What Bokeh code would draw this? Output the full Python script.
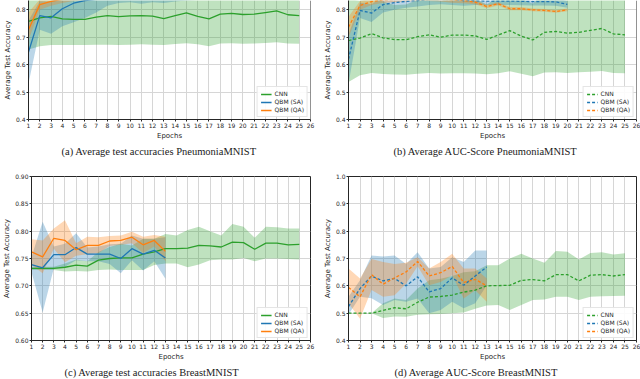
from bokeh.plotting import figure
from bokeh.layouts import column, row
from bokeh.models import Range1d, FixedTicker, Span, Title, NumeralTickFormatter
from bokeh.embed import file_html
from bokeh.resources import INLINE

# ---------------- data ----------------
ep25 = list(range(1, 26))
ep20 = list(range(1, 21))
ep13 = list(range(1, 14))
xticks = list(range(1, 27))

# (a) PneumoniaMNIST accuracy
cnn_a = [0.758, 0.771, 0.776, 0.767, 0.765, 0.765, 0.773, 0.779, 0.775, 0.778, 0.779, 0.777, 0.768,
         0.779, 0.789, 0.776, 0.767, 0.784, 0.787, 0.783, 0.784, 0.790, 0.796, 0.782, 0.779]
cnn_a_lo = [0.655, 0.667, 0.672, 0.672, 0.672, 0.672, 0.673, 0.673, 0.672, 0.673, 0.674, 0.673, 0.672,
            0.675, 0.678, 0.674, 0.667, 0.677, 0.678, 0.676, 0.677, 0.679, 0.682, 0.677, 0.676]
cnn_a_hi = [0.861, 0.875, 0.880, 0.862, 0.858, 0.858, 0.873, 0.885, 0.878, 0.883, 0.884, 0.881, 0.864,
            0.883, 0.900, 0.878, 0.867, 0.891, 0.896, 0.890, 0.891, 0.901, 0.910, 0.887, 0.882]
sa_a = [0.646, 0.779, 0.771, 0.804, 0.824, 0.834, 0.838, 0.846, 0.850, 0.852, 0.851, 0.854, 0.853,
        0.856, 0.857, 0.858, 0.858, 0.859, 0.860, 0.860]
sa_a_lo = [0.531, 0.727, 0.713, 0.740, 0.755, 0.770, 0.790, 0.815, 0.825, 0.828, 0.822, 0.828, 0.825,
           0.830, 0.834, 0.836, 0.836, 0.838, 0.838, 0.839]
sa_a_hi = [0.761, 0.831, 0.829, 0.868, 0.893, 0.898, 0.886, 0.877, 0.875, 0.876, 0.880, 0.880, 0.881,
           0.882, 0.880, 0.880, 0.880, 0.880, 0.882, 0.881]
qa_a = [0.727, 0.819, 0.831, 0.838, 0.842, 0.844, 0.846, 0.847, 0.848, 0.848, 0.849, 0.849, 0.850,
        0.850, 0.850, 0.851, 0.851, 0.851, 0.852, 0.852]
qa_a_lo = [0.690, 0.800, 0.815, 0.825, 0.832, 0.835, 0.837, 0.838, 0.839, 0.839, 0.840, 0.840, 0.841,
           0.841, 0.841, 0.842, 0.842, 0.842, 0.843, 0.843]
qa_a_hi = [0.790, 0.838, 0.847, 0.851, 0.852, 0.853, 0.855, 0.856, 0.857, 0.857, 0.858, 0.858, 0.859,
           0.859, 0.859, 0.860, 0.860, 0.860, 0.861, 0.861]

# (b) PneumoniaMNIST AUC
cnn_b = [0.688, 0.697, 0.713, 0.698, 0.691, 0.691, 0.702, 0.709, 0.700, 0.708, 0.708, 0.705, 0.692,
         0.708, 0.724, 0.704, 0.690, 0.718, 0.721, 0.715, 0.718, 0.725, 0.732, 0.712, 0.709]
cnn_b_lo = [0.537, 0.561, 0.570, 0.566, 0.564, 0.563, 0.567, 0.570, 0.568, 0.569, 0.569, 0.568, 0.565,
            0.569, 0.576, 0.567, 0.558, 0.571, 0.572, 0.570, 0.572, 0.574, 0.577, 0.570, 0.569]
cnn_b_hi = [0.839, 0.833, 0.856, 0.830, 0.818, 0.819, 0.837, 0.848, 0.832, 0.847, 0.847, 0.842, 0.819,
            0.847, 0.872, 0.841, 0.822, 0.865, 0.870, 0.860, 0.864, 0.876, 0.887, 0.854, 0.849]
sa_b = [0.620, 0.798, 0.788, 0.819, 0.826, 0.831, 0.834, 0.838, 0.840, 0.838, 0.834, 0.833, 0.832,
        0.832, 0.832, 0.831, 0.830, 0.830, 0.829, 0.820]
sa_b_lo = [0.530, 0.770, 0.756, 0.790, 0.800, 0.808, 0.812, 0.818, 0.820, 0.818, 0.815, 0.818, 0.818,
           0.818, 0.818, 0.817, 0.816, 0.816, 0.815, 0.808]
sa_b_hi = [0.710, 0.826, 0.820, 0.848, 0.852, 0.854, 0.856, 0.858, 0.860, 0.858, 0.853, 0.848, 0.846,
           0.846, 0.846, 0.845, 0.844, 0.844, 0.843, 0.832]
qa_b = [0.737, 0.816, 0.830, 0.836, 0.838, 0.840, 0.842, 0.842, 0.840, 0.836, 0.834, 0.828, 0.812,
        0.822, 0.804, 0.804, 0.800, 0.798, 0.794, 0.800]
qa_b_lo = [0.700, 0.800, 0.818, 0.826, 0.828, 0.830, 0.832, 0.832, 0.830, 0.826, 0.824, 0.820, 0.806,
           0.816, 0.798, 0.798, 0.795, 0.793, 0.789, 0.795]
qa_b_hi = [0.775, 0.832, 0.842, 0.846, 0.848, 0.850, 0.852, 0.852, 0.850, 0.846, 0.844, 0.836, 0.818,
           0.828, 0.810, 0.810, 0.805, 0.803, 0.799, 0.805]

# (c) BreastMNIST accuracy
cnn_c = [0.732, 0.732, 0.732, 0.734, 0.738, 0.736, 0.747, 0.750, 0.751, 0.751, 0.758, 0.762, 0.768,
         0.768, 0.769, 0.774, 0.773, 0.771, 0.780, 0.779, 0.767, 0.778, 0.778, 0.775, 0.776]
cnn_c_lo = [0.729, 0.729, 0.729, 0.726, 0.727, 0.726, 0.729, 0.730, 0.729, 0.729, 0.729, 0.738, 0.741,
            0.741, 0.734, 0.739, 0.747, 0.748, 0.748, 0.751, 0.745, 0.750, 0.750, 0.749, 0.748]
cnn_c_hi = [0.735, 0.735, 0.735, 0.741, 0.748, 0.745, 0.762, 0.771, 0.777, 0.774, 0.786, 0.786, 0.795,
            0.792, 0.802, 0.808, 0.800, 0.792, 0.813, 0.808, 0.788, 0.808, 0.807, 0.805, 0.805]
sa_c = [0.739, 0.733, 0.757, 0.757, 0.770, 0.758, 0.758, 0.758, 0.750, 0.768, 0.758, 0.765, 0.751]
sa_c_lo = [0.725, 0.651, 0.732, 0.735, 0.747, 0.745, 0.745, 0.740, 0.723, 0.747, 0.728, 0.745, 0.713]
sa_c_hi = [0.753, 0.817, 0.772, 0.777, 0.796, 0.770, 0.772, 0.776, 0.777, 0.792, 0.786, 0.786, 0.789]
qa_c = [0.762, 0.753, 0.787, 0.783, 0.766, 0.774, 0.774, 0.782, 0.783, 0.789, 0.775, 0.783, 0.763]
qa_c_lo = [0.738, 0.723, 0.768, 0.743, 0.755, 0.758, 0.760, 0.773, 0.775, 0.778, 0.760, 0.772, 0.745]
qa_c_hi = [0.785, 0.783, 0.805, 0.820, 0.778, 0.790, 0.789, 0.791, 0.792, 0.799, 0.790, 0.793, 0.790]

# (d) BreastMNIST AUC
cnn_d = [0.500, 0.500, 0.500, 0.510, 0.520, 0.516, 0.540, 0.559, 0.561, 0.566, 0.577, 0.584, 0.600,
         0.601, 0.602, 0.620, 0.623, 0.618, 0.641, 0.641, 0.618, 0.639, 0.641, 0.636, 0.641]
cnn_d_lo = [0.500, 0.500, 0.500, 0.482, 0.488, 0.487, 0.494, 0.496, 0.497, 0.500, 0.502, 0.516, 0.528,
            0.530, 0.512, 0.530, 0.548, 0.550, 0.560, 0.560, 0.548, 0.560, 0.562, 0.563, 0.564]
cnn_d_hi = [0.500, 0.500, 0.500, 0.536, 0.554, 0.548, 0.590, 0.620, 0.626, 0.636, 0.650, 0.653, 0.675,
            0.675, 0.700, 0.717, 0.700, 0.684, 0.727, 0.725, 0.696, 0.720, 0.723, 0.715, 0.719]
sa_d = [0.524, 0.590, 0.636, 0.618, 0.627, 0.600, 0.633, 0.578, 0.590, 0.629, 0.602, 0.636, 0.669]
sa_d_lo = [0.495, 0.560, 0.555, 0.530, 0.548, 0.542, 0.554, 0.500, 0.512, 0.542, 0.518, 0.536, 0.602]
sa_d_hi = [0.560, 0.620, 0.711, 0.707, 0.711, 0.680, 0.723, 0.663, 0.669, 0.705, 0.687, 0.729, 0.729]
qa_d = [0.594, 0.560, 0.641, 0.606, 0.629, 0.651, 0.689, 0.636, 0.648, 0.671, 0.612, 0.624, 0.600]
qa_d_lo = [0.536, 0.480, 0.585, 0.560, 0.566, 0.608, 0.672, 0.602, 0.614, 0.639, 0.554, 0.584, 0.542]
qa_d_hi = [0.663, 0.627, 0.698, 0.687, 0.680, 0.684, 0.705, 0.663, 0.687, 0.717, 0.663, 0.663, 0.627]

labels = ["CNN", "QBM (SA)", "QBM (QA)"]
captions = ["(a) Average test accuracies PneumoniaMNIST",
            "(b) Average AUC-Score PneumoniaMNIST",
            "(c) Average test accuracies BreastMNIST",
            "(d) Average AUC-Score BreastMNIST"]

GREEN, BLUE, ORANGE = "#2ca02c", "#1f77b4", "#ff7f0e"
SANS = "DejaVu Sans"
SERIF = "Liberation Serif"
DARK = "#262626"


def panel(width, height, yr, yticks, yfmt, borders, caption, cap_shift, series, dash, top_cut):
    p = figure(width=width, height=height, x_range=Range1d(1, 26), y_range=Range1d(*yr),
               output_backend="svg", toolbar_location=None,
               min_border_left=borders[0], min_border_right=borders[1],
               min_border_top=borders[2], min_border_bottom=borders[3])
    p.background_fill_color = "white"
    p.outline_line_color = None if top_cut else DARK
    p.outline_line_width = 1
    p.xaxis.ticker = FixedTicker(ticks=xticks)
    p.yaxis.ticker = FixedTicker(ticks=yticks)
    p.yaxis.formatter = NumeralTickFormatter(format=yfmt)
    p.xaxis.axis_label = "Epochs"
    p.yaxis.axis_label = "Average Test Accuracy"
    for ax in p.axis:
        ax.major_label_text_font = SANS
        ax.major_label_text_font_size = "6px"
        ax.major_label_text_color = DARK
        ax.major_label_standoff = 1
        ax.major_tick_out = 2
        ax.major_tick_in = 0
        ax.minor_tick_out = 0
        ax.minor_tick_in = 0
        ax.axis_line_color = DARK
        ax.major_tick_line_color = DARK
        ax.axis_label_text_font = SANS
        ax.axis_label_text_font_size = "7px"
        ax.axis_label_text_font_style = "normal"
        ax.axis_label_text_color = DARK
        ax.axis_label_standoff = 1
    p.grid.grid_line_color = "#d6d6d6"
    p.grid.grid_line_width = 1

    cols = [GREEN, BLUE, ORANGE]
    for (xs, m, lo, hi), c in zip(series, cols):
        p.varea(x=xs, y1=lo, y2=hi, fill_color=c, fill_alpha=0.3)
    for (xs, m, lo, hi), c, lab in zip(series, cols, labels):
        if dash:
            p.line(xs, m, line_color=c, line_width=1.3, line_dash="3 2", legend_label=lab)
        else:
            p.line(xs, m, line_color=c, line_width=1.3, legend_label=lab)
    if top_cut:
        p.add_layout(Span(location=26, dimension="height", line_color=DARK, line_width=1))

    lg = p.legend[0]
    lg.location = "bottom_right"
    lg.label_text_font = SANS
    lg.label_text_font_size = "6px"
    lg.label_text_color = DARK
    lg.label_height = 6
    lg.glyph_height = 6
    lg.glyph_width = 11
    lg.label_standoff = 3
    lg.spacing = 1
    lg.padding = 3
    lg.margin = 2
    lg.border_line_color = "#cccccc"
    lg.border_line_width = 1
    lg.background_fill_alpha = 0.9

    p.add_layout(Title(text=caption, align="left", text_font=SERIF, text_font_size="10.5px",
                       text_font_style="normal", text_color="#1a1a1a", standoff=3,
                       offset=cap_shift), "below")
    return p


pa = panel(320, 170, (0.4, 0.834), [0.4, 0.5, 0.6, 0.7, 0.8], "0.0", (19, 10, 0, 51), captions[0], 33,
           [(ep25, cnn_a, cnn_a_lo, cnn_a_hi), (ep20, sa_a, sa_a_lo, sa_a_hi), (ep20, qa_a, qa_a_lo, qa_a_hi)],
           False, True)
pb = panel(320, 170, (0.4, 0.834), [0.4, 0.5, 0.6, 0.7, 0.8], "0.0", (26, 4, 0, 51), captions[1], 45,
           [(ep25, cnn_b, cnn_b_lo, cnn_b_hi), (ep20, sa_b, sa_b_lo, sa_b_hi), (ep20, qa_b, qa_b_lo, qa_b_hi)],
           True, True)
pc = panel(320, 209, (0.6, 0.9), [0.6, 0.65, 0.7, 0.75, 0.8, 0.85, 0.9], "0.00", (22, 10, 6, 36), captions[2], 33,
           [(ep25, cnn_c, cnn_c_lo, cnn_c_hi), (ep13, sa_c, sa_c_lo, sa_c_hi), (ep13, qa_c, qa_c_lo, qa_c_hi)],
           False, False)
pd_ = panel(320, 209, (0.4, 1.0), [0.4, 0.5, 0.6, 0.7, 0.8, 0.9, 1.0], "0.0", (26, 4, 6, 36), captions[3], 46,
            [(ep25, cnn_d, cnn_d_lo, cnn_d_hi), (ep13, sa_d, sa_d_lo, sa_d_hi), (ep13, qa_d, qa_d_lo, qa_d_hi)],
            True, False)

root = column(row(pa, pb), row(pc, pd_))

open("out.html", "w").write(file_html(root, INLINE))
